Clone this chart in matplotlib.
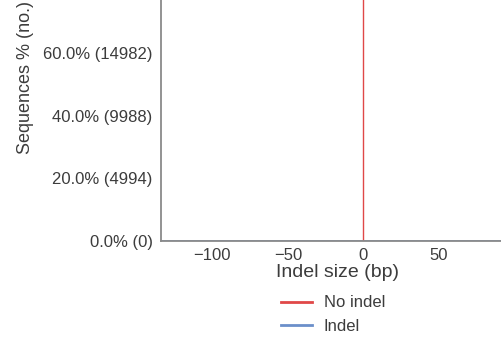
import matplotlib
matplotlib.use("Agg")
import matplotlib.pyplot as plt

# ---- data ----
total_reads = 24970
no_indel_x = [0, 0]
no_indel_pct = [0.0, 100.0]
indel_x = [-134, 0, 99]
indel_pct = [0.0, 0.0, 0.0]
y_ticks = [0, 20, 40, 60]
x_ticks = [-100, -50, 0, 50]
x_limits = (-134, 99)
y_limits = (0, 114)

plt.rcParams['font.family'] = ['Liberation Sans', 'DejaVu Sans']
text_color = '#3c3c3c'
spine_color = '#8a8a8a'

fig = plt.figure(figsize=(5.01, 3.5), dpi=100)
ax = fig.add_axes([161/501, 109/350, 352/501, 357/350])

ax.plot(indel_x, indel_pct, color='#6b8fca', lw=1.2, label='Indel', zorder=1)
ax.plot(no_indel_x, no_indel_pct, color='#e04848', lw=1.0, label='No indel', zorder=2)

ax.set_xlim(*x_limits)
ax.set_ylim(*y_limits)
ax.set_xticks(x_ticks)
ax.set_xticklabels([f"\u2212{abs(v)}" if v < 0 else str(v) for v in x_ticks])
ax.set_yticks(y_ticks)
ax.set_yticklabels([f"{v:.1f}% ({int(round(v/100*total_reads))})" for v in y_ticks])
ax.tick_params(axis='both', length=0, labelsize=12, labelcolor=text_color, pad=6)
ax.tick_params(axis='x', pad=5)

for s in ['top', 'right']:
    ax.spines[s].set_visible(False)
for s in ['left', 'bottom']:
    ax.spines[s].set_color(spine_color)
    ax.spines[s].set_linewidth(1.3)
    ax.spines[s].set_zorder(3)

ax.set_xlabel('Indel size (bp)', fontsize=14, color=text_color)
ax.set_ylabel('Sequences % (no.)', fontsize=13, color=text_color)
ax.xaxis.set_label_coords((337 - 161) / 352, (241 - 264) / 357)
ax.yaxis.set_label_coords((34 - 161) / 352, (241 - 77) / 357)

handles, labels = ax.get_legend_handles_labels()
order = [1, 0]
fig.legend([handles[i] for i in order], [labels[i] for i in order],
           loc='upper center', bbox_to_anchor=(333/501, 1 - 287/350),
           bbox_transform=fig.transFigure, frameon=False, fontsize=12,
           labelcolor=text_color, handlelength=1.9, handletextpad=0.7,
           labelspacing=0.5, borderpad=0.0)
for lh in fig.legends[0].get_lines():
    lh.set_linewidth(2.0)

fig.savefig('out.png', dpi=100)
